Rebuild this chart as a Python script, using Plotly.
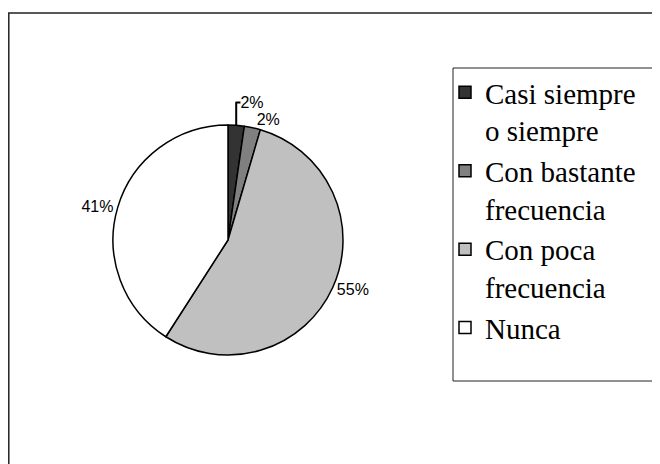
import plotly.graph_objects as go

categories = ["Casi siempre<br>o siempre", "Con bastante<br>frecuencia", "Con poca<br>frecuencia", "Nunca"]
values = [1, 1, 24, 18]
colors = ["#333333", "#808080", "#c0c0c0", "#ffffff"]

W, H = 660, 464

fig = go.Figure(go.Pie(
    labels=categories,
    values=values,
    sort=False,
    direction="clockwise",
    rotation=0,
    marker=dict(colors=colors, line=dict(color="black", width=1.5)),
    textposition="outside",
    texttemplate="%{percent:.0%}",
    textfont=dict(family="Liberation Sans, Arial", size=16, color="black"),
    domain=dict(x=[105 / W, 335 / W], y=[1 - 347 / H, 1 - 117 / H]),
    hoverinfo="label+percent",
))

fig.update_layout(
    width=W, height=H,
    margin=dict(l=0, r=0, t=0, b=0),
    paper_bgcolor="white",
    plot_bgcolor="white",
    showlegend=True,
    legend=dict(
        x=437 / W, y=1 - 59 / H, xanchor="left", yanchor="top",
        valign="top",
        font=dict(family="Liberation Serif, Times New Roman", size=29, color="black"),
        bgcolor="rgba(0,0,0,0)", borderwidth=0,
    ),
    shapes=[
        dict(type="rect", xref="paper", yref="paper",
             x0=0.8 / W, y0=-0.05, x1=1.05, y1=1 - 5 / H,
             line=dict(color="#222222", width=1.5)),
        dict(type="rect", xref="paper", yref="paper",
             x0=445 / W, y0=1 - 373 / H, x1=647 / W, y1=1 - 60 / H,
             line=dict(color="#222222", width=1)),
    ],
)

fig.write_html("out.html")
